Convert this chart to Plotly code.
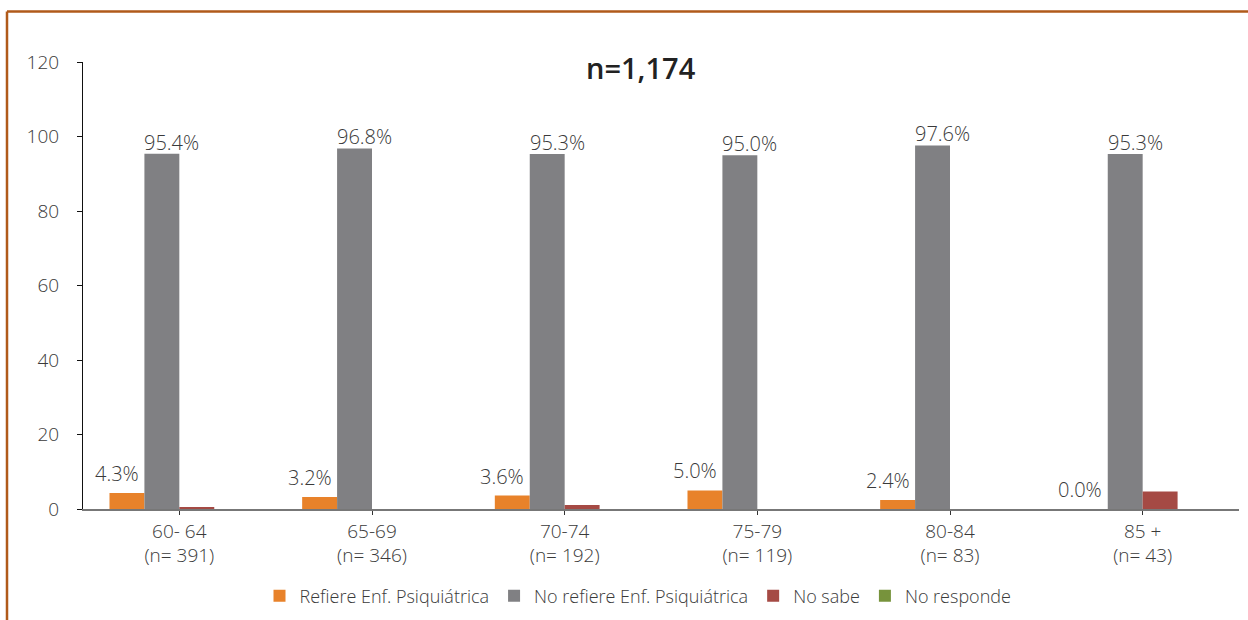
import plotly.graph_objects as go

categories = ["60- 64<br>(n= 391)", "65-69<br>(n= 346)", "70-74<br>(n= 192)",
              "75-79<br>(n= 119)", "80-84<br>(n= 83)", "85 +<br>(n= 43)"]
refiere = [4.3, 3.2, 3.6, 5.0, 2.4, 0.0]
no_refiere = [95.4, 96.8, 95.3, 95.0, 97.6, 95.3]
no_sabe = [0.3, 0.0, 1.1, 0.0, 0.0, 4.7]
no_responde = [0.0, 0.0, 0.0, 0.0, 0.0, 0.0]

series_names = ["Refiere Enf. Psiquiátrica", "No refiere Enf. Psiquiátrica", "No sabe", "No responde"]
colors = ["#E8822A", "#808083", "#A54A44", "#77933C"]
FONT = "Open Sans"
TXT = "#3a3a3a"

fig = go.Figure()
for name, vals, col in zip(series_names, [refiere, no_refiere, no_sabe, no_responde], colors):
    fig.add_trace(go.Bar(x=list(range(len(categories))), y=vals, name=name,
                         marker=dict(color=col, line=dict(width=0))))

bargap = 0.275
bw = (1 - bargap) / 4
annotations = []
for series, idx, xs, ys in [(refiere, 0, -10, 4), (no_refiere, 1, 10, -4)]:
    for i, v in enumerate(series):
        annotations.append(dict(x=i + (idx - 1.5) * bw, y=v, xref="x", yref="y",
                                text=f"{v:.1f}%", showarrow=False, yanchor="bottom",
                                xshift=xs, yshift=ys,
                                font=dict(family=FONT, size=20, color=TXT, weight=300)))

L, R, T, B = 83, 9, 62, 111
W, H = 1248, 620
pw = W - L - R
ph = H - T - B
def px(xp):
    return (xp - L) / pw
def py(yp):
    return (H - B - yp) / ph

annotations.append(dict(x=px(641), y=py(68), xref="paper", yref="paper", text="n=1,174",
                        showarrow=False, yanchor="middle", xanchor="center",
                        font=dict(family=FONT, size=29, color="#222222", weight=600)))

border = "#B05A1A"
shapes = [
    dict(type="line", xref="paper", yref="paper", x0=px(7), x1=px(1250), y0=py(11.5), y1=py(11.5),
         line=dict(color=border, width=2.5)),
    dict(type="line", xref="paper", yref="paper", x0=px(7), x1=px(7), y0=py(11.5), y1=py(625),
         line=dict(color=border, width=2.5)),
]

fig.update_layout(
    width=W, height=H,
    margin=dict(l=L, r=R, t=T, b=B, autoexpand=False),
    paper_bgcolor="white", plot_bgcolor="white",
    barmode="group", bargap=bargap, bargroupgap=0,
    font=dict(family=FONT, size=16, color=TXT),
    showlegend=True,
    legend=dict(orientation="h", x=px(638), xanchor="center", y=py(596), yanchor="middle",
                font=dict(family=FONT, size=18, color=TXT, weight=300), itemwidth=30,
                traceorder="normal"),
    annotations=annotations,
    shapes=shapes,
    xaxis=dict(tickmode="array", tickvals=list(range(len(categories))), ticktext=categories,
               range=[-0.5, len(categories) - 0.5], automargin=False,
               showline=True, linecolor="#777777", linewidth=1.5,
               ticks="outside", ticklen=4, tickcolor="#333333",
               showgrid=False, zeroline=False,
               tickfont=dict(family=FONT, size=19, color=TXT, weight=300)),
    yaxis=dict(range=[0, 120], tickvals=[0, 20, 40, 60, 80, 100, 120], automargin=False,
               showline=True, linecolor="#111111", linewidth=1.2,
               ticks="outside", ticklen=5, tickcolor="#111111",
               showgrid=False, zeroline=False, ticklabelstandoff=14,
               tickfont=dict(family=FONT, size=19, color=TXT, weight=300)),
)

fig.update_xaxes(tickson="boundaries")

fig.write_html("out.html", config={"displayModeBar": False},
               post_script="document.body.style.margin='0';")
